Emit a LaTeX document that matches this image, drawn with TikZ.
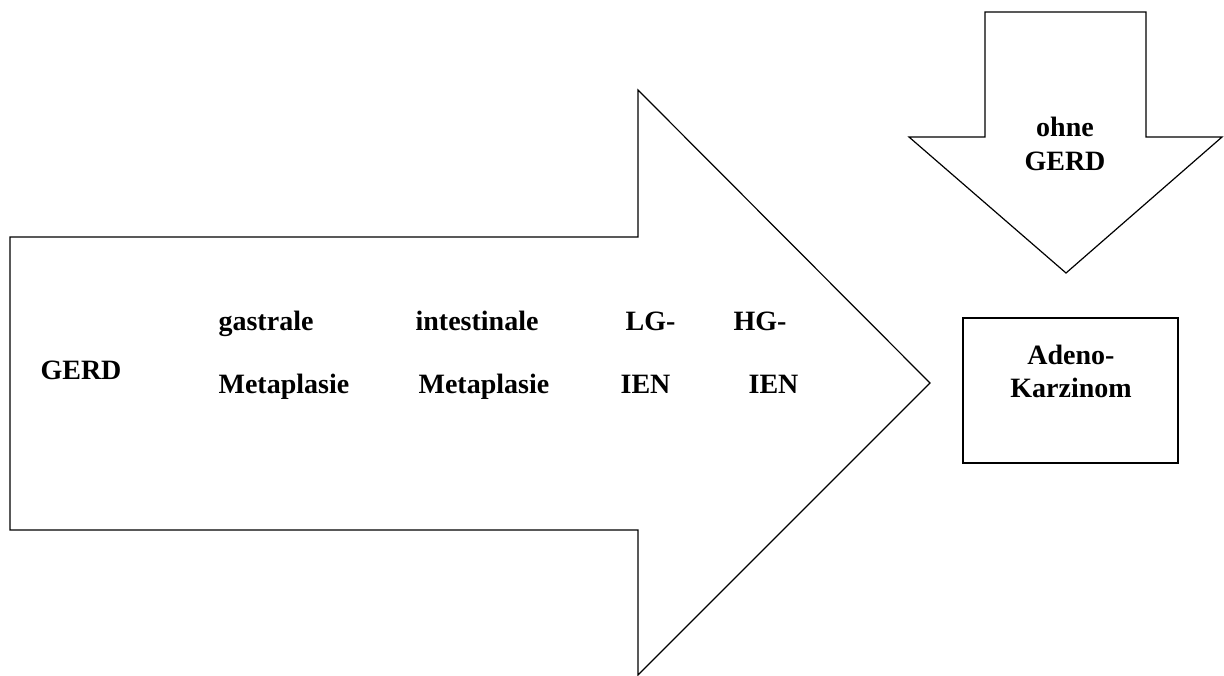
\documentclass[tikz,border=0pt]{standalone}
\usepackage{fontspec}
\setmainfont{Liberation Serif}
\begin{document}
\begin{tikzpicture}[x=0.5pt, y=-0.5pt, line width=0.6pt,
  lbl/.style={font=\bfseries\fontsize{14}{17}\selectfont, inner sep=0pt}]
  \useasboundingbox (0,0) rectangle (1224,675);
  % big arrow (stages)
  \draw (10,237) -- (638,237) -- (638,90) -- (930,383) -- (638,675)
    -- (638,530) -- (10,530) -- cycle;
  % down arrow
  \draw (985,12) -- (1146,12) -- (1146,137) -- (1222,137) -- (1066,273)
    -- (909,137) -- (985,137) -- cycle;
  % target box
  \draw (963,318) rectangle (1178,463);
  % stage labels
  \node[lbl, anchor=base] (gerd) at (81,379) {GERD};
  \node[lbl, anchor=base west] (gastr) at (218,330) {gastrale};
  \node[lbl, anchor=base west] (gastrmeta) at (218,393) {Metaplasie};
  \node[lbl, anchor=base west] (intest) at (415,330) {intestinale};
  \node[lbl, anchor=base west] (intestmeta) at (418,393) {Metaplasie};
  \node[lbl, anchor=base west] (lg) at (625,330) {LG-};
  \node[lbl, anchor=base west] (lgien) at (620,393) {IEN};
  \node[lbl, anchor=base west] (hg) at (733,330) {HG-};
  \node[lbl, anchor=base west] (hgien) at (748,393) {IEN};
  % side labels
  \node[lbl, anchor=base] (ohne) at (1065,136) {ohne};
  \node[lbl, anchor=base] (ohnegerd) at (1065,170) {GERD};
  \node[lbl, anchor=base] (adeno) at (1071,364) {Adeno-};
  \node[lbl, anchor=base] (karz) at (1071,397) {Karzinom};
\end{tikzpicture}
\end{document}
